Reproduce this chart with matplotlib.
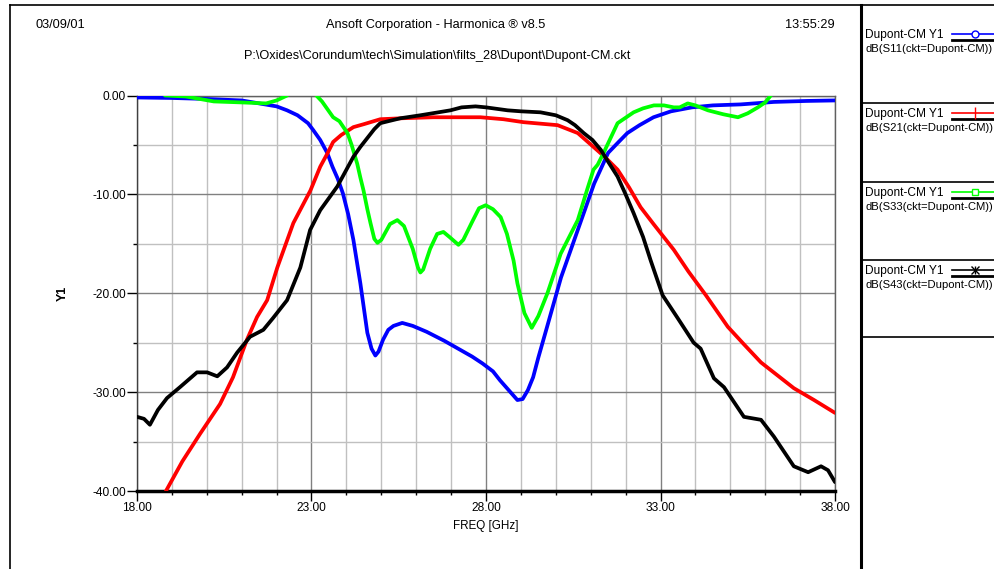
import numpy as np
import matplotlib
matplotlib.use("Agg")
import matplotlib.pyplot as plt
from matplotlib.lines import Line2D

plt.rcParams['font.family'] = ['Liberation Sans', 'DejaVu Sans']

# ---- data ----
s11_f = [18, 19, 20, 21, 21.5, 22.0, 22.3, 22.6, 22.9, 23.05, 23.25, 23.45, 23.6, 23.75, 23.9,
         24.05, 24.2, 24.4, 24.6, 24.72, 24.83, 24.92, 25.05, 25.2, 25.35, 25.6, 25.9, 26.3,
         26.8, 27.2, 27.6, 27.9, 28.2, 28.4, 28.7, 28.9, 29.05, 29.2, 29.35, 29.5, 29.75, 30.15,
         30.6, 31.1, 31.5, 31.8, 32.05, 32.4, 32.8, 33.3, 33.9, 34.5, 35.3, 36.25, 37.2, 38]
s11_db = [-0.2, -0.25, -0.35, -0.5, -0.8, -1.1, -1.5, -2.0, -2.8, -3.5, -4.5, -5.8, -7.2, -8.4, -9.9,
          -12.0, -14.6, -19, -24, -25.6, -26.3, -25.9, -24.7, -23.7, -23.3, -23.0, -23.3, -23.9,
          -24.8, -25.6, -26.4, -27.1, -27.9, -28.8, -30.0, -30.8, -30.7, -29.8, -28.5, -26.5, -23.4, -18.4,
          -13.9, -8.9, -5.8, -4.7, -3.8, -3.0, -2.2, -1.6, -1.2, -1.0, -0.9, -0.65, -0.55, -0.5]

s21_f = [18.83, 19.3, 19.81, 20.38, 20.75, 21.15, 21.44, 21.73, 22.02, 22.48, 22.97, 23.25, 23.45,
         23.62, 23.85, 24.2, 24.5, 24.97, 25.6, 26.49, 27.84, 28.5, 29.08, 30.05, 30.63, 31.08,
         31.4, 31.77, 32.1, 32.43, 32.8, 33.38, 33.8, 34.3, 34.93, 35.4, 35.88, 36.82, 37.4, 38]
s21_db = [-40, -37.0, -34.2, -31.2, -28.5, -24.7, -22.4, -20.7, -17.4, -12.9, -9.6, -7.2, -5.9,
          -4.7, -4.0, -3.2, -2.9, -2.4, -2.3, -2.2, -2.2, -2.4, -2.7, -3.0, -3.8, -5.2,
          -6.2, -7.5, -9.3, -11.3, -13.0, -15.6, -17.8, -20.2, -23.4, -25.2, -27, -29.6, -30.8, -32.1]

s33_f = [18.8, 19.4, 20.2, 21.0, 21.7, 22.0, 22.3, np.nan,
         23.14, 23.3, 23.5, 23.62, 23.8, 24.03, 24.15, 24.31, 24.4, 24.49, 24.6, 24.69, 24.8,
         24.89, 25.0, 25.25, 25.46, 25.65, 25.9, 26.05, 26.12, 26.2, 26.4, 26.6, 26.78, 26.95,
         27.21, 27.35, 27.6, 27.8, 27.99, 28.2, 28.42, 28.6, 28.79, 28.9, 29.1, 29.31, 29.5,
         29.76, 30.14, 30.63, 30.9, 31.08, 31.2, 31.37, 31.77, 32.23, 32.5, 32.81, 33.1, 33.38,
         33.55, 33.78, 34.0, 34.36, 34.8, 35.22, 35.5, 35.79, 36.0, 36.16]
s33_db = [0, -0.1, -0.6, -0.7, -0.8, -0.5, 0, np.nan,
          0, -0.6, -1.6, -2.2, -2.6, -3.8, -5.0, -6.9, -8.3, -9.6, -11.5, -12.9, -14.5,
          -14.9, -14.6, -13.0, -12.6, -13.2, -15.5, -17.4, -17.9, -17.6, -15.5, -14.0, -13.8, -14.3,
          -15.1, -14.6, -12.8, -11.4, -11.1, -11.5, -12.3, -14.0, -16.7, -19, -22.0, -23.5, -22.3,
          -20, -16, -12.6, -9.5, -7.5, -7.0, -5.8, -2.8, -1.7, -1.3, -1.0, -1.0, -1.2,
          -1.2, -0.8, -1.0, -1.5, -1.9, -2.2, -1.8, -1.2, -0.7, 0]

s43_f = [18.0, 18.2, 18.37, 18.6, 18.86, 19.23, 19.72, 20.01, 20.3, 20.58, 20.87, 21.24, 21.62, 21.9,
         22.3, 22.68, 22.96, 23.25, 23.74, 24.2, 24.4, 24.6, 24.8, 24.97, 25.2, 25.55, 26.12,
         26.98, 27.3, 27.7, 28.0, 28.62, 29.0, 29.56, 30.0, 30.34, 30.55, 30.8, 31.05, 31.29, 31.5,
         31.77, 32.0, 32.23, 32.5, 32.72, 33.06, 33.49, 33.95, 34.15, 34.53, 34.82,
         35.39, 35.88, 36.25, 36.82, 37.23, 37.6, 37.8, 38.0]
s43_db = [-32.5, -32.7, -33.3, -31.8, -30.6, -29.5, -28, -28, -28.4, -27.5, -26, -24.4, -23.7, -22.5,
          -20.7, -17.4, -13.6, -11.6, -9.2, -6.2, -5.2, -4.3, -3.4, -2.8, -2.6, -2.3, -2.0,
          -1.5, -1.2, -1.1, -1.2, -1.5, -1.6, -1.7, -2.0, -2.5, -3.0, -3.8, -4.5, -5.5, -6.7,
          -8.2, -10.0, -11.9, -14.3, -16.7, -20.2, -22.5, -25.0, -25.6, -28.6, -29.5,
          -32.5, -32.8, -34.5, -37.5, -38.1, -37.5, -37.9, -39.1]

series_names = ["dB(S11(ckt=Dupont-CM))", "dB(S21(ckt=Dupont-CM))",
                "dB(S33(ckt=Dupont-CM))", "dB(S43(ckt=Dupont-CM))"]
series_colors = ["#0000ff", "#ff0000", "#00ff00", "#000000"]

x_ticks = [18, 23, 28, 33, 38]
y_ticks = [0, -10, -20, -30, -40]

W, H = 994, 569
fig = plt.figure(figsize=(W / 100, H / 100), dpi=100)

def fx(px):
    return px / W

def fy(py):
    return 1 - py / H

ax = fig.add_axes([fx(137), fy(491), fx(835) - fx(137), fy(95.5) - fy(491)])
ax.set_xlim(18, 38)
ax.set_ylim(-40, 0)

# grid
for f in range(18, 39):
    major = (f - 18) % 5 == 0
    ax.axvline(f, color="#808080" if major else "#c0c0c0", lw=1.0, zorder=1)
for d in range(-40, 1, 5):
    major = d % 10 == 0
    ax.axhline(d, color="#808080" if major else "#c0c0c0", lw=1.0, zorder=1)

datasets = [(s11_f, s11_db), (s21_f, s21_db), (s33_f, s33_db), (s43_f, s43_db)]
for (fr, db), c in zip(datasets, series_colors):
    ax.plot(fr, db, color=c, lw=2.7, solid_capstyle="round", solid_joinstyle="round", zorder=3)

ax.set_xticks(x_ticks)
ax.set_xticklabels([f"{v:.2f}" for v in x_ticks], fontsize=8.6)
ax.set_xticks(np.arange(18, 39, 1), minor=True)
ax.set_yticks(y_ticks)
ax.set_yticklabels([f"{v:.2f}" for v in y_ticks], fontsize=8.6)
ax.set_yticks(np.arange(-40, 1, 5), minor=True)
ax.tick_params(axis="both", which="major", direction="out", length=7, width=1, pad=1)
ax.tick_params(axis="both", which="minor", direction="out", length=3, width=1)
for s in ax.spines.values():
    s.set_color("#606060")
    s.set_linewidth(1)
ax.spines["bottom"].set_color("black")
ax.spines["bottom"].set_linewidth(2.5)
ax.spines["left"].set_color("#404040")

ax.set_xlabel("FREQ [GHz]", fontsize=8.4, labelpad=4)
ax.set_ylabel("Y1", fontsize=9, fontweight="bold", labelpad=17)

# header texts
hfs = 9.2
fig.text(fx(36), fy(25), "03/09/01", fontsize=hfs, va="center", ha="left")
fig.text(fx(436), fy(25), "Ansoft Corporation - Harmonica \u00ae v8.5", fontsize=hfs,
         va="center", ha="center")
fig.text(fx(835), fy(25), "13:55:29", fontsize=hfs, va="center", ha="right")
fig.text(fx(437), fy(56), "P:\\Oxides\\Corundum\\tech\\Simulation\\filts_28\\Dupont\\Dupont-CM.ckt",
         fontsize=hfs, va="center", ha="center")

# frame lines
def fline(x0, y0, x1, y1, lw=1.2):
    fig.add_artist(Line2D([fx(x0), fx(x1)], [fy(y0), fy(y1)], color="black", lw=lw))

fline(10, 5, 994, 5)
fline(10, 5, 10, 569)
fline(861, 5, 861, 569, lw=2.2)
for yy in [103, 182, 260, 337]:
    fline(862, yy, 994, yy)

# legend panel
markers = ["o", "|", "s", None]
entry_y = [35, 114, 193, 271]
for name, c, m, yy in zip(series_names, series_colors, markers, entry_y):
    fig.text(fx(865), fy(yy), "Dupont-CM Y1", fontsize=8.6, va="center", ha="left")
    fig.text(fx(865.5), fy(yy + 14), name, fontsize=8.1, va="center", ha="left")
    fig.add_artist(Line2D([fx(952), fx(994)], [fy(yy - 1), fy(yy - 1)], color=c, lw=1.2))
    fig.add_artist(Line2D([fx(952), fx(994)], [fy(yy + 5), fy(yy + 5)], color="black", lw=2))
    if m == "o":
        fig.add_artist(Line2D([fx(975)], [fy(yy - 1)], marker="o", markersize=5,
                              markerfacecolor="white", markeredgecolor=c, color=c))
    elif m == "|":
        fig.add_artist(Line2D([fx(975)], [fy(yy - 1)], marker="|", markersize=9,
                              markeredgecolor=c, color=c))
    elif m == "s":
        fig.add_artist(Line2D([fx(975)], [fy(yy - 1)], marker="s", markersize=5,
                              markerfacecolor="white", markeredgecolor=c, color=c))
    else:
        for mm in ["x", "|"]:
            fig.add_artist(Line2D([fx(975)], [fy(yy - 1)], marker=mm, markersize=6,
                                  markeredgecolor=c, color=c, markeredgewidth=1))

fig.savefig("out.png", dpi=100)
